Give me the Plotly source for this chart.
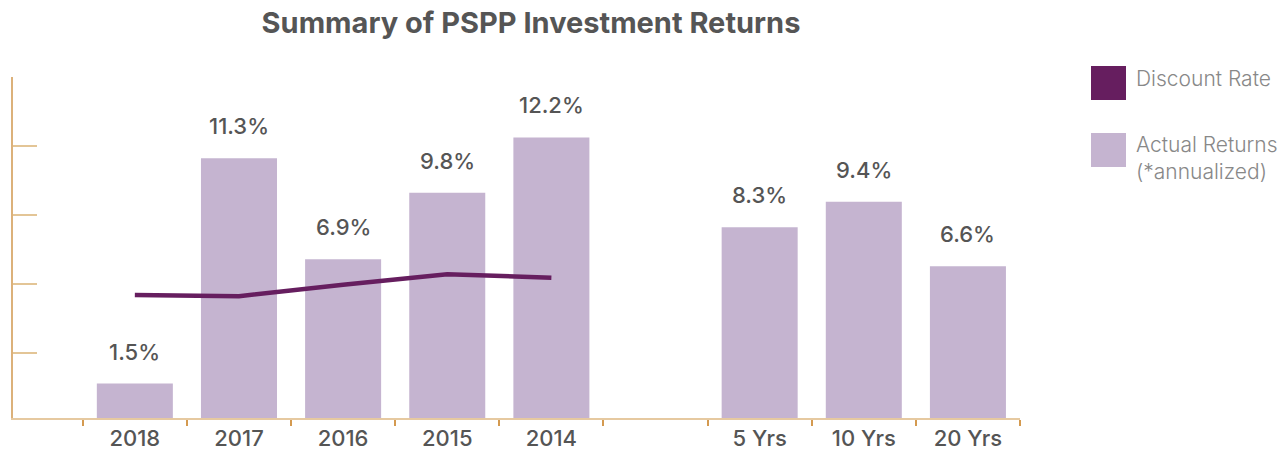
import plotly.graph_objects as go

categories = ["2018", "2017", "2016", "2015", "2014", " ", "5 Yrs", "10 Yrs", "20 Yrs"]
actual_returns = [1.5, 11.3, 6.9, 9.8, 12.2, None, 8.3, 9.4, 6.6]
return_labels = ["1.5%", "11.3%", "6.9%", "9.8%", "12.2%", "", "8.3%", "9.4%", "6.6%"]
discount_categories = ["2018", "2017", "2016", "2015", "2014"]
discount_rate = [5.35, 5.3, 5.8, 6.25, 6.1]

BAR = "#c5b4d0"
LINE = "#661e5f"
TEXT = "#555555"
AXIS = "#dcb17a"
FONT = "Inter"

W, H = 1280, 451
L, R, T, B = 13, 260, 77, 33
pw, ph = W - L - R, H - T - B


def px_x(px):
    return (px - L) / pw


def px_y(py):
    return (H - B - py) / ph


fig = go.Figure()
fig.add_trace(go.Bar(x=categories, y=actual_returns, marker=dict(color=BAR, line=dict(width=0)),
                     width=0.73, name="Actual Returns", showlegend=False, hoverinfo="skip"))
fig.add_trace(go.Scatter(x=discount_categories, y=discount_rate, mode="lines",
                         line=dict(color=LINE, width=4.5), name="Discount Rate", showlegend=False))

for i, (v, t) in enumerate(zip(actual_returns, return_labels)):
    if v is None:
        continue
    fig.add_annotation(x=i, y=v, text=t, showarrow=False, yanchor="bottom", yshift=17,
                       font=dict(family=FONT, size=22, color=TEXT, weight=500))

# custom legend
fig.add_shape(type="rect", xref="paper", yref="paper", x0=px_x(1091), x1=px_x(1126),
              y0=px_y(100), y1=px_y(66), fillcolor=LINE, line=dict(width=0))
fig.add_shape(type="rect", xref="paper", yref="paper", x0=px_x(1091), x1=px_x(1126),
              y0=px_y(167), y1=px_y(133), fillcolor=BAR, line=dict(width=0))
fig.add_annotation(xref="paper", yref="paper", x=px_x(1134), y=px_y(78), xanchor="left", yanchor="middle",
                   text="Discount Rate", showarrow=False, align="left",
                   font=dict(family=FONT, size=21, color="#888888", weight=300))
fig.add_annotation(xref="paper", yref="paper", x=px_x(1134), y=px_y(158), xanchor="left", yanchor="middle",
                   text="Actual Returns<br>(*annualized)", showarrow=False, align="left",
                   font=dict(family=FONT, size=21, color="#888888", weight=300))

fig.update_layout(
    width=W, height=H, autosize=False,
    margin=dict(l=L, r=R, t=T, b=B, autoexpand=False),
    paper_bgcolor="white", plot_bgcolor="white",
    title=dict(text="<b>Summary of PSPP Investment Returns</b>", x=px_x(531), xref="paper",
               xanchor="center", y=1 - 23 / H, yanchor="middle", automargin=False,
               font=dict(family=FONT, size=29, color=TEXT)),
    xaxis=dict(type="category", categoryorder="array", categoryarray=categories, automargin=False,
               range=[-1.17, 8.5], showline=True, linecolor="#e6c9a0", linewidth=2,
               ticks="outside", tickson="boundaries", ticklen=6, tickcolor="#d49a50", tickwidth=1.5,
               showgrid=False, zeroline=False,
               tickfont=dict(family=FONT, size=22, color=TEXT, weight=500)),
    yaxis=dict(range=[0, 14.83], showline=True, linecolor=AXIS, linewidth=2, automargin=False,
               ticks="inside", ticklen=24, tickcolor="#e3c596", tickwidth=2,
               tick0=2.83, dtick=3, showticklabels=False, showgrid=False, zeroline=False),
)

fig.write_html("out.html", config={"responsive": False, "displayModeBar": False},
               post_script="document.body.style.margin='0';document.body.style.overflow='hidden';")
